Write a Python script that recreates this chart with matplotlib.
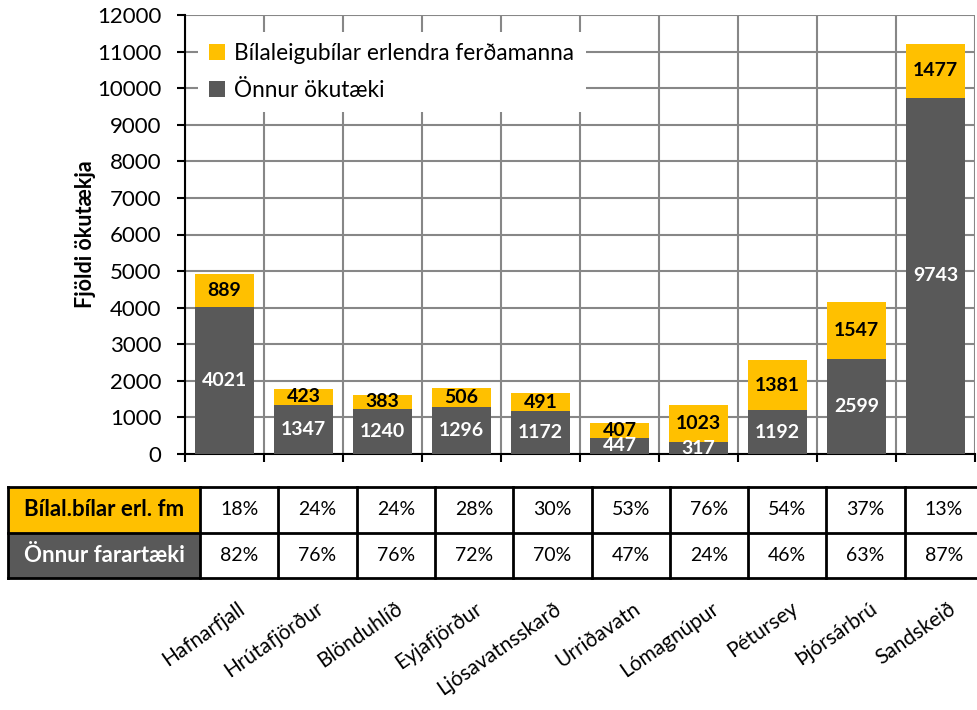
import matplotlib.pyplot as plt
from matplotlib.patches import Patch, Rectangle
from matplotlib.transforms import ScaledTranslation
import numpy as np

plt.rcParams['font.family'] = ['Lato', 'DejaVu Sans']

# talningastaðir og fjöldi ökutækja
stations = ["Hafnarfjall", "Hrútafjörður", "Blönduhlíð", "Eyjafjörður", "Ljósavatnsskarð",
            "Urriðavatn", "Lómagnúpur", "Pétursey", "Þjórsárbrú", "Sandskeið"]
other = [4021, 1347, 1240, 1296, 1172, 447, 317, 1192, 2599, 9743]
rental = [889, 423, 383, 506, 491, 407, 1023, 1381, 1547, 1477]

# hlutföll í töflunni
pct_rental = ["18%", "24%", "24%", "28%", "30%", "53%", "76%", "54%", "37%", "13%"]
pct_other = ["82%", "76%", "76%", "72%", "70%", "47%", "24%", "46%", "63%", "87%"]

yellow = "#FFC000"
grey = "#595959"
W, H = 977, 710

fig = plt.figure(figsize=(W / 100, H / 100), dpi=100)
ax = fig.add_axes([185 / W, (H - 454) / H, 790 / W, 439 / H])

x = np.arange(len(stations))
ax.bar(x, other, width=0.74, color=grey, zorder=3)
ax.bar(x, rental, width=0.74, bottom=other, color=yellow, zorder=3)

for i in range(len(stations)):
    ax.text(x[i], other[i] / 2, str(other[i]), ha="center", va="center",
            color="white", fontsize=14, fontweight="bold", zorder=4)
    ax.text(x[i], other[i] + rental[i] / 2, str(rental[i]), ha="center", va="center",
            color="black", fontsize=14, fontweight="bold", zorder=4)

ax.set_xlim(-0.5, len(stations) - 0.5)
ax.set_ylim(0, 12000)
ax.set_yticks(np.arange(0, 12001, 1000))
ax.set_xticks(x)
ax.set_xticks(np.arange(-0.5, len(stations)), minor=True)
ax.grid(axis="y", color="#878787", linewidth=1.5, zorder=0)
ax.grid(axis="x", which="minor", color="#878787", linewidth=1.5, zorder=0)

for side in ["top", "right"]:
    ax.spines[side].set_visible(False)
ax.spines["left"].set_linewidth(1.5)
ax.spines["bottom"].set_linewidth(1.5)

ax.tick_params(axis="y", labelsize=16, length=6, width=1.5, pad=11)
ax.tick_params(axis="x", which="minor", length=6, width=1.5, direction="out")
ax.tick_params(axis="x", which="major", length=0, pad=104)
ax.set_xticklabels(stations, rotation=35, ha="right", fontsize=15)
shift = ScaledTranslation(0.24, 0, fig.dpi_scale_trans)
for lbl in ax.get_xticklabels():
    lbl.set_transform(lbl.get_transform() + shift)

ax.set_ylabel("Fjöldi ökutækja", fontsize=15.5, fontweight="bold", labelpad=1)

handles = [Patch(facecolor=yellow, edgecolor="none", label="Bílaleigubílar erlendra ferðamanna"),
           Patch(facecolor=grey, edgecolor="none", label="Önnur ökutæki")]
leg = ax.legend(handles=handles, loc="upper left", bbox_to_anchor=(198 / W, 1 - 32 / H),
                bbox_transform=fig.transFigure, fontsize=16.3, frameon=True, fancybox=False,
                edgecolor="none", facecolor="white", framealpha=1, handlelength=0.7,
                handleheight=0.7, handletextpad=0.4, labelspacing=0.7, borderpad=0.5,
                borderaxespad=0)
leg.set_zorder(5)

# tafla með hlutföllum
tab = fig.add_axes([8 / W, (H - 578) / H, 975 / W, 91 / H])
tab.set_xlim(0, 975)
tab.set_ylim(91, 0)
tab.axis("off")
head_w = 192
cell_w = 78.3
row_h = 45.5
tab.add_patch(Rectangle((0, 0), head_w, row_h, facecolor=yellow, edgecolor="none"))
tab.add_patch(Rectangle((0, row_h), head_w, row_h, facecolor=grey, edgecolor="none"))
tab.text(head_w / 2, row_h / 2, "Bílal.bílar erl. fm", ha="center", va="center",
         fontsize=16, fontweight="bold", color="black")
tab.text(head_w / 2, row_h * 1.5, "Önnur farartæki", ha="center", va="center",
         fontsize=16, fontweight="bold", color="white")
for i in range(len(stations)):
    cx = head_w + cell_w * (i + 0.5)
    tab.text(cx, row_h / 2, pct_rental[i], ha="center", va="center", fontsize=14)
    tab.text(cx, row_h * 1.5, pct_other[i], ha="center", va="center", fontsize=14)

lw = 2
for yy in [0, row_h, 2 * row_h]:
    tab.plot([0, 975], [yy, yy], color="black", linewidth=lw, clip_on=False)
tab.plot([0, 0], [0, 2 * row_h], color="black", linewidth=lw, clip_on=False)
for i in range(len(stations) + 1):
    xx = head_w + cell_w * i
    tab.plot([xx, xx], [0, 2 * row_h], color="black", linewidth=lw, clip_on=False)

fig.savefig("out.png", dpi=100)
